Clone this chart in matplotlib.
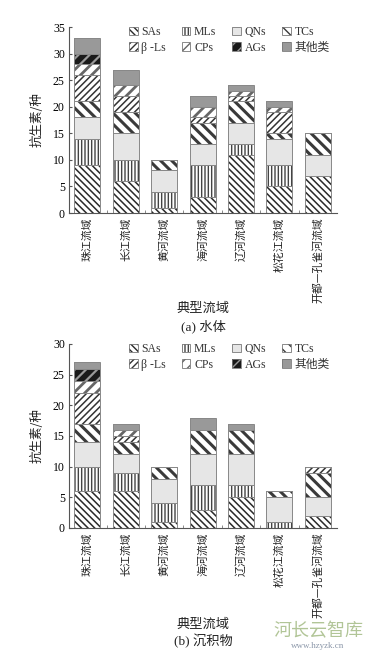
import matplotlib
matplotlib.use('Agg')
import matplotlib.pyplot as plt
from matplotlib.patches import Patch
from matplotlib.legend_handler import HandlerTuple
import numpy as np

basins = ['珠江流域', '长江流域', '黄河流域', '海河流域', '辽河流域', '松花江流域', '开都—孔雀河流域']
classes = ['SAs', 'MLs', 'QNs', 'TCs', 'β -Ls', 'CPs', 'AGs', '其他类']

# (a) water
water_SAs = [9, 6, 1, 3, 11, 5, 7]
water_MLs = [5, 4, 3, 6, 2, 4, 0]
water_QNs = [4, 5, 4, 4, 4, 5, 4]
water_TCs = [3, 4, 2, 4, 4, 1, 4]
water_BLs = [5, 3, 0, 1, 1, 4, 0]
water_CPs = [2, 2, 0, 2, 1, 1, 0]
water_AGs = [2, 0, 0, 0, 0, 0, 0]
water_OTH = [3, 3, 0, 2, 1, 1, 0]

# (b) sediment
sed_SAs = [6, 6, 1, 3, 5, 0, 2]
sed_MLs = [4, 3, 3, 4, 2, 1, 0]
sed_QNs = [4, 3, 4, 5, 5, 4, 3]
sed_TCs = [3, 2, 2, 4, 4, 1, 4]
sed_BLs = [5, 1, 0, 0, 0, 0, 1]
sed_CPs = [2, 1, 0, 0, 0, 0, 0]
sed_AGs = [2, 0, 0, 0, 0, 0, 0]
sed_OTH = [1, 1, 0, 2, 1, 0, 0]

water = [water_SAs, water_MLs, water_QNs, water_TCs, water_BLs, water_CPs, water_AGs, water_OTH]
sed = [sed_SAs, sed_MLs, sed_QNs, sed_TCs, sed_BLs, sed_CPs, sed_AGs, sed_OTH]

styles = [
    dict(fc='white', hc='#2a2a2a', hatch='\\' * 5, hlw=1.1),
    dict(fc='white', hc='#444444', hatch='|' * 5, hlw=1.0),
    dict(fc='#e6e6e6', hc='#e6e6e6', hatch=None, hlw=0.9),
    dict(fc='white', hc='#3a3a3a', hatch='\\' * 3, hlw=2.2),
    dict(fc='white', hc='#333333', hatch='/' * 5, hlw=1.1),
    dict(fc='white', hc='#666666', hatch='/' * 3, hlw=2.0),
    dict(fc='#1a1a1a', hc='#999999', hatch='/' * 3, hlw=1.6),
    dict(fc='#999999', hc='#999999', hatch=None, hlw=0.9),
]

plt.rcParams['font.family'] = ['Liberation Serif', 'Noto Sans CJK SC', 'DejaVu Sans']
plt.rcParams['hatch.linewidth'] = 1.0

fig = plt.figure(figsize=(3.79, 6.56), dpi=100)

def set_hlw(p, lw):
    if hasattr(p, 'set_hatch_linewidth'):
        try:
            p.set_hatch_linewidth(lw)
        except Exception:
            pass

def draw(ax, data, ymax):
    x = np.arange(len(basins))
    bottom = np.zeros(len(basins))
    w = 0.68
    for vals, st in zip(data, styles):
        vals = np.array(vals, dtype=float)
        bars = ax.bar(x, vals, w, bottom=bottom, color=st['fc'], edgecolor=st['hc'],
                      hatch=st['hatch'], linewidth=0, zorder=2)
        for b in bars:
            set_hlw(b, st['hlw'])
        ax.bar(x, vals, w, bottom=bottom, fill=False, edgecolor='#888888', linewidth=0.7, zorder=3)
        bottom += vals
    ax.set_xlim(-0.48, 6.5)
    ax.set_ylim(0, ymax)
    ax.set_yticks(np.arange(0, ymax + 1, 5))
    for s in ['top', 'right']:
        ax.spines[s].set_visible(False)
    for s in ['left', 'bottom']:
        ax.spines[s].set_color('#555555')
        ax.spines[s].set_linewidth(0.8)
    ax.tick_params(axis='y', direction='in', length=2.5, labelsize=8.5, pad=3, color='#555555')
    ax.set_xticks(x)
    ax.set_xticklabels(basins, rotation=90, fontsize=7.8, va='top', family=['Noto Sans CJK SC'],
                       color='#222222')
    ax.tick_params(axis='x', length=0, pad=3)
    ax.set_xticks(np.arange(0.5, 6.5, 1), minor=True)
    ax.tick_params(axis='x', which='minor', direction='in', length=2.5, color='#777777')
    ax.set_ylabel('抗生素/种', fontsize=9, family=['Noto Sans CJK SC'], labelpad=7, color='#222222')

    handles = []
    for st in styles:
        p1 = Patch(facecolor=st['fc'], edgecolor=st['hc'], hatch=st['hatch'], linewidth=0)
        set_hlw(p1, min(st['hlw'], 1.2))
        p2 = Patch(facecolor='none', edgecolor='#777777', linewidth=0.6)
        handles.append((p1, p2))
    order = [0, 4, 1, 5, 2, 6, 3, 7]
    leg = ax.legend([handles[i] for i in order], [classes[i] for i in order], ncol=4,
                    loc='upper left', bbox_to_anchor=(0.205, 1.03), frameon=False,
                    fontsize=8.5, handlelength=0.75, handleheight=0.75, handletextpad=0.3,
                    columnspacing=1.35, labelspacing=0.3, borderaxespad=0,
                    handler_map={tuple: HandlerTuple(ndivide=1, pad=0)})
    for t in leg.get_texts():
        t.set_color('#333333')

ax1 = fig.add_axes([69 / 379, 443 / 656, 268 / 379, 186 / 656])
draw(ax1, water, 35)
ax2 = fig.add_axes([69 / 379, 128 / 656, 268 / 379, 184 / 656])
draw(ax2, sed, 30)

fig.text(203 / 379, 1 - 308 / 656, '典型流域', ha='center', va='center', fontsize=9.5,
         family=['Noto Sans CJK SC'], color='#222222')
fig.text(203 / 379, 1 - 326 / 656, '(a) 水体', ha='center', va='center', fontsize=9.5,
         family=['Liberation Serif', 'Noto Sans CJK SC'], color='#222222')
fig.text(203 / 379, 1 - 624 / 656, '典型流域', ha='center', va='center', fontsize=9.5,
         family=['Noto Sans CJK SC'], color='#222222')
fig.text(203 / 379, 1 - 641 / 656, '(b) 沉积物', ha='center', va='center', fontsize=9.5,
         family=['Liberation Serif', 'Noto Sans CJK SC'], color='#222222')

# watermark
fig.text(318 / 379, 1 - 631 / 656, '河长云智库', ha='center', va='center', fontsize=13,
         family=['Noto Sans CJK SC'], color='#a9bf8c', alpha=0.9)
fig.text(318 / 379, 1 - 646 / 656, 'www.hzyzk.cn', ha='center', va='center', fontsize=6.5,
         family=['Liberation Serif'], color='#8a96a8')

fig.savefig('out.png', dpi=100)
